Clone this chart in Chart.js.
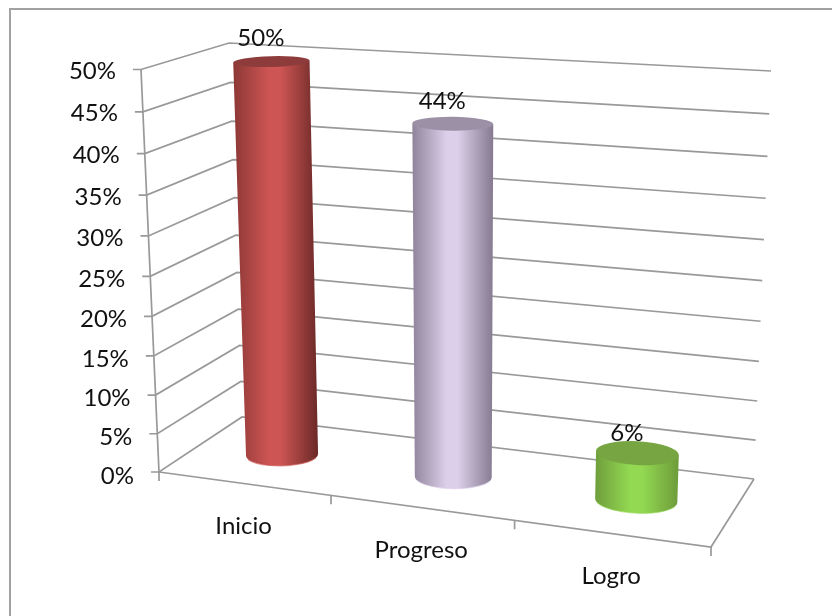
<!DOCTYPE html>
<html>
<head>
<meta charset="utf-8">
<title>Inicio Progreso Logro</title>
<script src="https://cdn.jsdelivr.net/npm/chart.js@4/dist/chart.umd.js"></script>
<style>
  html,body{margin:0;padding:0;background:#fff}
  canvas{display:block}
</style>
</head>
<body>
<canvas id="chart" width="832" height="616"></canvas>
<script>
// ---- Data ----
const categories = ['Inicio', 'Progreso', 'Logro'];
const percentages = [50, 44, 6];
const maxPercent = 50;
const stepPercent = 5;

// cylinder colours
const barColors = ['#cd5553', '#dccfe9', '#93d952'];
const edgeLeftColors = ['#8c3836', '#8f849c', '#6f9e3c'];
const edgeRightColors = ['#6a2927', '#857a90', '#6d9b3a'];
const topColors = ['#8e3c3b', '#9c90a6', '#76a542'];

// ---- Perspective of the 3D box ----
// each edge runs from the value 0 to the top value: [x0, y0, x1, y1]
const edgeFrontLeft = [159, 472, 141, 69.5];
const edgeBackLeft = [242, 417, 229, 43];
const edgeBackRight = [754, 479, 771, 71];
const edgeFrontRight = [711, 547, 726, 111];
const gridColor = '#999999';
const fontFamily = 'Lato';
const fontSize = 24;

function warp(t, b){ return t / (1 + b * (1 - t)); }
function unwarp(t, b){ return t * (1 + b) / (1 + b * t); }
const warpX = 0.1046, warpY = 0.0576;

function onEdge(edge, t){
  return { x: edge[0] + (edge[2] - edge[0]) * t, y: edge[1] + (edge[3] - edge[1]) * t };
}
// u along the categories, d into the depth (0 front, 1 back), t up the values
function project(u, d, t){
  const fl = onEdge(edgeFrontLeft, t), fr = onEdge(edgeFrontRight, t);
  const bl = onEdge(edgeBackLeft, t), br = onEdge(edgeBackRight, t);
  const fx = fl.x + (fr.x - fl.x) * u, fy = fl.y + (fr.y - fl.y) * u;
  const bx = bl.x + (br.x - bl.x) * u, by = bl.y + (br.y - bl.y) * u;
  return { x: fx + (bx - fx) * d, y: fy + (by - fy) * d };
}

// ---- Scales that follow the perspective ----
class DepthCategoryScale extends Chart.CategoryScale {
  static id = 'depthCategory';
  static defaults = Chart.CategoryScale.defaults;
  getPixelForDecimal(decimal){ return super.getPixelForDecimal(warp(decimal, warpX)); }
  _computeLabelItems(area){
    const items = super._computeLabelItems(area);
    items.forEach((item, i) => {
      const u = (this.getPixelForTick(i) - this.left) / this.width;
      item.options.translation[1] = project(u, 0, 0).y + 43;
      item.options.textBaseline = 'middle';
      item.textOffset = 0;
    });
    return items;
  }
}
class DepthLinearScale extends Chart.LinearScale {
  static id = 'depthLinear';
  static defaults = Chart.LinearScale.defaults;
  getPixelForDecimal(decimal){ return super.getPixelForDecimal(warp(decimal, warpY)); }
  _computeLabelItems(area){
    const items = super._computeLabelItems(area);
    items.forEach((item, i) => {
      const t = (this.bottom - this.getPixelForTick(i)) / this.height;
      item.options.translation[0] += onEdge(edgeFrontLeft, t).x - edgeFrontLeft[0];
    });
    return items;
  }
}
Chart.register(DepthCategoryScale, DepthLinearScale);

function line(ctx, pts){
  ctx.beginPath();
  pts.forEach((p, i) => i ? ctx.lineTo(p.x, p.y) : ctx.moveTo(p.x, p.y));
  ctx.stroke();
}

// ---- Walls, floor and outer frame ----
const boxPlugin = {
  id: 'box',
  beforeDraw(chart){
    const ctx = chart.ctx;
    ctx.save();
    ctx.strokeStyle = '#a2a2a2';
    ctx.lineWidth = 2;
    line(ctx, [{x:10, y:chart.height}, {x:10, y:9}, {x:chart.width, y:9}]);
    ctx.restore();
  },
  beforeDatasetsDraw(chart){
    const ctx = chart.ctx, yScale = chart.scales.y;
    ctx.save();
    ctx.strokeStyle = gridColor;
    ctx.lineWidth = 1.7;
    yScale.ticks.forEach(tick => {
      const t = (yScale.bottom - yScale.getPixelForValue(tick.value)) / yScale.height;
      const a = onEdge(edgeFrontLeft, t);
      line(ctx, [{x:a.x - 8, y:a.y}, a, onEdge(edgeBackLeft, t), onEdge(edgeBackRight, t)]);
    });
    line(ctx, [onEdge(edgeFrontLeft, 0), onEdge(edgeFrontLeft, 1)]);
    line(ctx, [onEdge(edgeFrontLeft, 0), onEdge(edgeFrontRight, 0), onEdge(edgeBackRight, 0)]);
    // tick marks between categories
    for(let i = 0; i <= categories.length; i++){
      const p = project(warp(i / categories.length, warpX), 0, 0);
      line(ctx, [p, {x:p.x, y:p.y + 9}]);
    }
    ctx.restore();
  },
  // cylinders instead of the flat bars
  beforeDatasetDraw(chart, args){
    const ctx = chart.ctx, area = chart.chartArea;
    chart.getDatasetMeta(args.index).data.forEach((bar, i) => {
      const u = (bar.x - area.left) / (area.right - area.left);
      const raw = unwarp(u, warpX);
      const du = bar.width / 2 / (area.right - area.left);
      const uL = warp(raw - du, warpX), uR = warp(raw + du, warpX);
      const t = (area.bottom - bar.y) / (area.bottom - area.top);
      const rot = 0.12 * (raw - 0.4);

      const ring = tt => {
        const c = project(u, 0.5, tt);
        return {
          x: c.x, y: c.y,
          rx: (project(uR, 0.5, tt).x - project(uL, 0.5, tt).x) / 2,
          ry: 0.19 * (project(u, 0, tt).y - project(u, 1, tt).y)
        };
      };
      const top = ring(t), base = ring(0);

      const grad = ctx.createLinearGradient(Math.min(top.x - top.rx, base.x - base.rx), 0, Math.max(top.x + top.rx, base.x + base.rx), 0);
      grad.addColorStop(0, edgeLeftColors[i]);
      grad.addColorStop(0.42, barColors[i]);
      grad.addColorStop(0.56, barColors[i]);
      grad.addColorStop(1, edgeRightColors[i]);

      ctx.save();
      ctx.fillStyle = grad;
      ctx.beginPath();
      ctx.ellipse(base.x, base.y, base.rx, base.ry, rot, 0, Math.PI);
      ctx.lineTo(top.x - top.rx * Math.cos(rot), top.y - top.rx * Math.sin(rot));
      ctx.lineTo(top.x + top.rx * Math.cos(rot), top.y + top.rx * Math.sin(rot));
      ctx.closePath();
      ctx.fill();
      // pale rim along the base
      ctx.strokeStyle = barColors[i];
      ctx.globalAlpha = 0.6;
      ctx.lineWidth = 1.2;
      ctx.beginPath();
      ctx.ellipse(base.x, base.y, base.rx, base.ry, rot, 0.35, Math.PI - 0.35);
      ctx.stroke();
      ctx.globalAlpha = 1;
      ctx.fillStyle = topColors[i];
      ctx.beginPath();
      ctx.ellipse(top.x, top.y, top.rx, top.ry, rot, 0, Math.PI * 2);
      ctx.fill();
      ctx.restore();
    });
    return false;
  },
  // value labels
  afterDatasetsDraw(chart){
    const ctx = chart.ctx, area = chart.chartArea;
    ctx.save();
    ctx.fillStyle = '#111';
    ctx.font = fontSize + 'px ' + fontFamily;
    ctx.textAlign = 'center';
    ctx.textBaseline = 'middle';
    chart.getDatasetMeta(0).data.forEach((bar, i) => {
      const u = (bar.x - area.left) / (area.right - area.left);
      const t = (area.bottom - bar.y) / (area.bottom - area.top);
      const c = project(u, 0.5, t);
      ctx.fillText(percentages[i] + '%', c.x - 10.5, c.y - 19 - 4 * t);
    });
    ctx.restore();
  }
};

new Chart(document.getElementById('chart'), {
  type: 'bar',
  plugins: [boxPlugin],
  data: {
    labels: categories,
    datasets: [{ data: percentages, backgroundColor: barColors, barThickness: 80 }]
  },
  options: {
    responsive: false,
    animation: false,
    layout: { padding: { left: 0, right: 121, top: 71, bottom: 10 } },
    plugins: { legend: { display: false }, tooltip: { enabled: false } },
    scales: {
      x: {
        type: 'depthCategory',
        offset: true,
        afterFit(s){ s.height = 130; },
        grid: { display: false },
        border: { display: false },
        ticks: { color: '#111', font: { family: fontFamily, size: fontSize }, maxRotation: 0, autoSkip: false }
      },
      y: {
        type: 'depthLinear',
        min: 0,
        max: maxPercent,
        afterFit(s){ s.width = 159; },
        grid: { display: false },
        border: { display: false },
        ticks: { stepSize: stepPercent, color: '#111', padding: 17, font: { family: fontFamily, size: fontSize }, callback: v => v + '%' }
      }
    }
  }
});
</script>
</body>
</html>
